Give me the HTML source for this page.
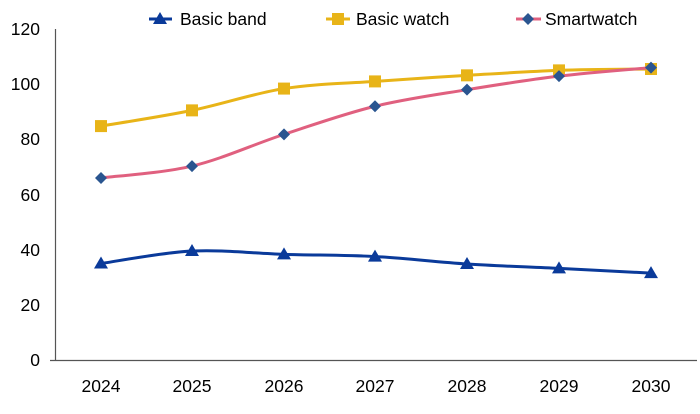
<!DOCTYPE html>
<html><head><meta charset="utf-8"><style>
html,body{margin:0;padding:0;background:#fff;}
svg{display:block;font-family:"Liberation Sans",sans-serif;}
</style></head><body>
<svg id="c" width="700" height="414" viewBox="0 0 700 414" xmlns="http://www.w3.org/2000/svg">
<g font-size="17.5" fill="#000" text-anchor="end">
<text x="40" y="35">120</text><text x="40" y="90">100</text><text x="40" y="145">80</text>
<text x="40" y="201">60</text><text x="40" y="256">40</text><text x="40" y="311">20</text><text x="40" y="366">0</text>
</g>
<g font-size="17.5" fill="#000" text-anchor="middle">
<text x="101" y="392">2024</text><text x="192" y="392">2025</text><text x="284" y="392">2026</text>
<text x="375" y="392">2027</text><text x="467" y="392">2028</text><text x="559" y="392">2029</text><text x="651" y="392">2030</text>
</g>
<line x1="55.5" y1="29" x2="55.5" y2="360" stroke="#555" stroke-width="1.2"/>
<line x1="50" y1="360.5" x2="697" y2="360.5" stroke="#555" stroke-width="1.2"/>
<g id="series"></g>
<g font-size="17.5" fill="#000">
<line x1="149" y1="19" x2="172" y2="19" stroke="#0a3a9a" stroke-width="3"/>
<polygon points="160,12 167,24 153,24" fill="#0a3a9a"/>
<text x="180" y="25">Basic band</text>
<line x1="326" y1="19" x2="350" y2="19" stroke="#e8b418" stroke-width="3"/>
<rect x="332" y="13" width="12" height="12" fill="#e8b418"/>
<text x="356" y="25">Basic watch</text>
<line x1="516" y1="19" x2="541" y2="19" stroke="#e0607f" stroke-width="3"/>
<polygon points="528,13 534,19 528,25 522,19" fill="#2a5590"/>
<text x="545" y="25">Smartwatch</text>
</g>
</svg>
<script>
var xs=[101,192,284,375,467,559,651];
function Y(v){return 360-v*331/120;}
var S=[
 {c:"#0a3a9a",m:"tri",d:[35,39.5,38.3,37.5,34.8,33.2,31.5]},
 {c:"#e8b418",m:"sq",d:[84.8,90.5,98.4,101,103.2,105,105.5]},
 {c:"#e0607f",m:"dia",d:[66,70.3,81.8,92,98,102.9,106]}
];
var g=document.getElementById("series"),h="";
S.forEach(function(s){
 var p=s.d.map(function(v,i){return [xs[i],Y(v)];});
 var d="M"+p[0][0]+","+p[0][1];
 for(var i=0;i<p.length-1;i++){
  var p0=p[i-1]||p[i],p1=p[i],p2=p[i+1],p3=p[i+2]||p2,t=6;
  d+=" C"+(p1[0]+(p2[0]-p0[0])/t)+","+(p1[1]+(p2[1]-p0[1])/t)+" "+(p2[0]-(p3[0]-p1[0])/t)+","+(p2[1]-(p3[1]-p1[1])/t)+" "+p2[0]+","+p2[1];
 }
 h+='<path d="'+d+'" fill="none" stroke="'+s.c+'" stroke-width="3"/>';
 p.forEach(function(q){
  var x=q[0],y=q[1];
  if(s.m=="tri")h+='<polygon points="'+x+','+(y-7)+' '+(x+7)+','+(y+5)+' '+(x-7)+','+(y+5)+'" fill="'+s.c+'"/>';
  else if(s.m=="sq")h+='<rect x="'+(x-6)+'" y="'+(y-6)+'" width="12" height="12" fill="'+s.c+'"/>';
  else h+='<polygon points="'+x+','+(y-6)+' '+(x+6)+','+y+' '+x+','+(y+6)+' '+(x-6)+','+y+'" fill="#2a5590"/>';
 });
});
g.innerHTML=h;
</script>
</body></html>
